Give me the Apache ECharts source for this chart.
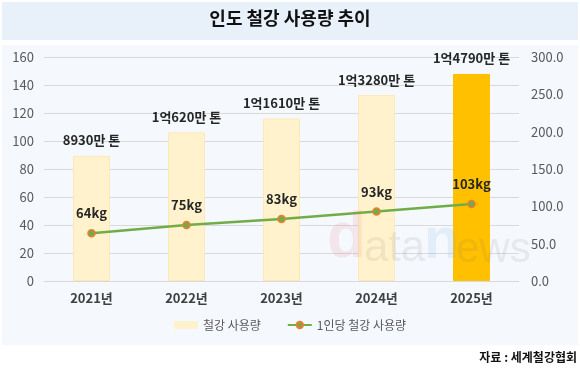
<!DOCTYPE html>
<html><head><meta charset="utf-8">
<script src="https://cdn.jsdelivr.net/npm/echarts@6/dist/echarts.min.js"></script>
<style>html,body{margin:0;padding:0;background:#fff}#c{width:580px;height:373px}</style>
</head><body><div id="c"></div>
<script>
const categories = ['2021년','2022년','2023년','2024년','2025년'];
const steelUse = [89.3, 106.2, 116.1, 132.8, 147.9];
const steelUseLabels = ['8930만 톤','1억620만 톤','1억1610만 톤','1억3280만 톤','1억4790만 톤'];
const perCapita = [64, 75, 83, 93, 103];
const leftTicks = [0,20,40,60,80,100,120,140,160];
const rightTicks = [0,50,100,150,200,250,300];

const font = '"Noto Sans CJK KR", "Noto Sans", sans-serif';
const chart = echarts.init(document.getElementById('c'));
chart.setOption({
  animation:false,
  textStyle:{fontFamily:font},
  graphic:[
    {type:'rect', shape:{x:2,y:2,width:576,height:38}, style:{fill:'#e8f0fa'}, z:-10},
    {type:'rect', shape:{x:2,y:45,width:576,height:300}, style:{fill:'#f5f8fd'}, z:-10},
    {type:'text', left:'center', top:9, style:{text:'인도 철강 사용량 추이', font:'bold 18px '+font, fill:'#111'}},
    {type:'text', right:3, top:351, style:{text:'자료 : 세계철강협회', font:'bold 12px '+font, fill:'#111'}},
    {type:'text', x:327, y:271, style:{text:'d', font:'bold 64px "Liberation Sans", sans-serif', fill:'rgba(235,110,110,0.13)', verticalAlign:'bottom'}, z:50},
    {type:'text', x:364, y:271, style:{text:'ata', font:'44px "Liberation Sans", sans-serif', fill:'rgba(110,110,110,0.11)', verticalAlign:'bottom'}, z:50},
    {type:'text', x:424, y:271, style:{text:'n', font:'bold 58px "Liberation Sans", sans-serif', fill:'rgba(110,170,235,0.14)', verticalAlign:'bottom'}, z:50},
    {type:'text', x:456, y:271, style:{text:'ews', font:'42px "Liberation Sans", sans-serif', fill:'rgba(110,110,110,0.11)', verticalAlign:'bottom'}, z:50}
  ],
  grid:{left:44, right:61, top:57, bottom:92, containLabel:false},
  legend:{
    bottom:37, left:'center', itemGap:26, itemWidth:24, itemHeight:8,
    textStyle:{color:'#595959', fontSize:12, fontFamily:font},
    data:[{name:'철강 사용량', icon:'rect'},{name:'1인당 철강 사용량'}]
  },
  xAxis:{
    type:'category', data:categories,
    axisLine:{lineStyle:{color:'#d9d9d9'}}, axisTick:{show:false},
    axisLabel:{color:'#404040', fontSize:13, fontWeight:'bold', margin:11, fontFamily:font}
  },
  yAxis:[
    {type:'value', min:leftTicks[0], max:leftTicks[leftTicks.length-1], interval:20,
     axisLabel:{color:'#595959', fontSize:13, margin:10, fontFamily:font},
     splitLine:{lineStyle:{color:'#d9d9d9'}}, axisLine:{show:false}, axisTick:{show:false}},
    {type:'value', min:rightTicks[0], max:rightTicks[rightTicks.length-1], interval:50,
     axisLabel:{color:'#595959', fontSize:13, margin:12, fontFamily:font, formatter:v=>v.toFixed(1)},
     splitLine:{show:false}, axisLine:{show:false}, axisTick:{show:false}}
  ],
  series:[
    {name:'철강 사용량', type:'bar', yAxisIndex:0, barWidth:37,
     itemStyle:{color:'#fff2cc'},
     data:steelUse.map((v,i)=>({value:v, itemStyle:{color: i===steelUse.length-1?'#ffc000':'#fff2cc', borderColor: i===steelUse.length-1?'#ffc000':'#fde9b8', borderWidth:1}})),
     label:{show:true, position:'top', distance:9, formatter:p=>steelUseLabels[p.dataIndex],
            color:'#262626', fontSize:13, fontWeight:'bold', fontFamily:font}
    },
    {name:'1인당 철강 사용량', type:'line', yAxisIndex:1, data:perCapita,
     symbol:'circle', symbolSize:7,
     lineStyle:{color:'#70ad47', width:2.5},
     itemStyle:{color:'#70ad47', borderColor:'#ed7d31', borderWidth:1.5},
     label:{show:true, position:'top', distance:9, formatter:'{c}kg',
            color:'#262626', fontSize:13, fontWeight:'bold', fontFamily:font}
    }
  ]
});
</script></body></html>
